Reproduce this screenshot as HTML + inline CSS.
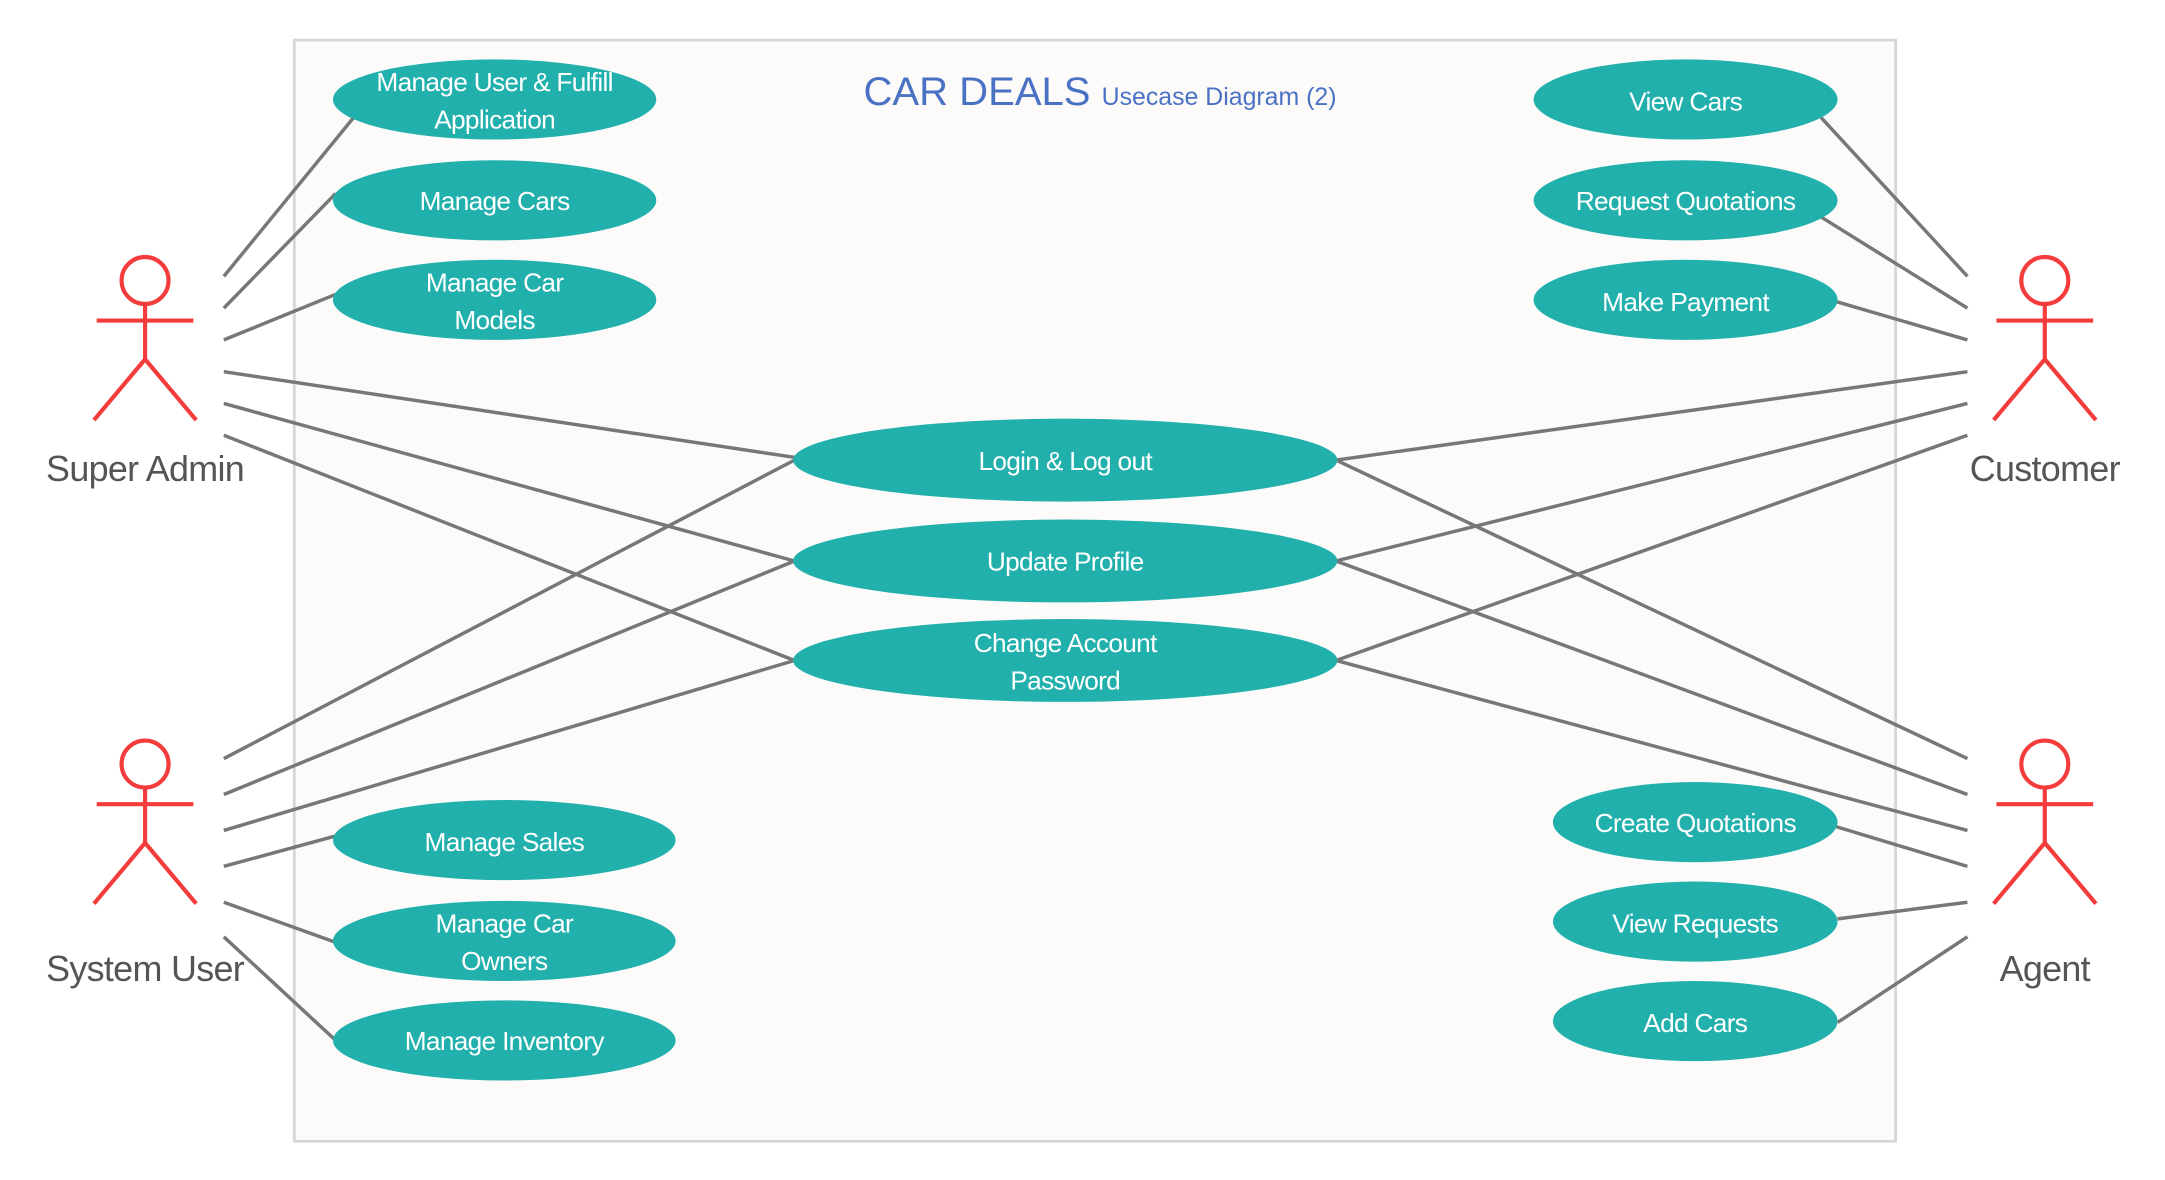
<!DOCTYPE html>
<html><head><meta charset="utf-8"><style>html,body{margin:0;padding:0;background:#fff}svg{display:block}</style></head>
<body>
<svg width="2165" height="1180" viewBox="0 0 1567 854" preserveAspectRatio="none" xmlns="http://www.w3.org/2000/svg" font-family="Liberation Sans, sans-serif">
<rect x="213" y="29" width="1159" height="797" fill="#fcfbfa" stroke="#d6d6d6" stroke-width="2"/>
<g stroke="#777" stroke-width="2.5" fill="none">
<line x1="162" y1="200" x2="256" y2="85"/><line x1="162" y1="223" x2="243" y2="140"/><line x1="162" y1="246" x2="243" y2="213"/>
<line x1="162" y1="269" x2="575" y2="331"/><line x1="162" y1="292" x2="575" y2="406"/><line x1="162" y1="315" x2="575" y2="478"/>
<line x1="162" y1="549" x2="575" y2="333"/><line x1="162" y1="575" x2="575" y2="406"/><line x1="162" y1="601" x2="575" y2="478"/>
<line x1="162" y1="627" x2="243" y2="605"/><line x1="162" y1="653" x2="243" y2="682"/><line x1="162" y1="678" x2="243" y2="753"/>
<line x1="1424" y1="200" x2="1318" y2="85"/><line x1="1424" y1="223" x2="1318" y2="157"/><line x1="1424" y1="246" x2="1328" y2="218"/>
<line x1="1424" y1="269" x2="967" y2="333"/><line x1="1424" y1="292" x2="967" y2="406"/><line x1="1424" y1="315" x2="967" y2="478"/>
<line x1="1424" y1="549" x2="967" y2="333"/><line x1="1424" y1="575" x2="967" y2="406"/><line x1="1424" y1="601" x2="967" y2="478"/>
<line x1="1424" y1="627" x2="1328" y2="598"/><line x1="1424" y1="653" x2="1330" y2="665"/><line x1="1424" y1="678" x2="1330" y2="740"/>
</g>
<g fill="#22b0ad">
<ellipse cx="358" cy="72" rx="117" ry="29"/><ellipse cx="358" cy="145" rx="117" ry="29"/><ellipse cx="358" cy="217" rx="117" ry="29"/>
<ellipse cx="771" cy="333" rx="197" ry="30"/><ellipse cx="771" cy="406" rx="197" ry="30"/><ellipse cx="771" cy="478" rx="197" ry="30"/>
<ellipse cx="1220" cy="72" rx="110" ry="29"/><ellipse cx="1220" cy="145" rx="110" ry="29"/><ellipse cx="1220" cy="217" rx="110" ry="29"/>
<ellipse cx="365" cy="608" rx="124" ry="29"/><ellipse cx="365" cy="681" rx="124" ry="29"/><ellipse cx="365" cy="753" rx="124" ry="29"/>
<ellipse cx="1227" cy="595" rx="103" ry="29"/><ellipse cx="1227" cy="667" rx="103" ry="29"/><ellipse cx="1227" cy="739" rx="103" ry="29"/>
</g>
<g fill="#fff" font-size="19" text-anchor="middle" letter-spacing="-0.5">
<text x="358" y="66">Manage User &amp; Fulfill</text><text x="358" y="93">Application</text>
<text x="358" y="152">Manage Cars</text>
<text x="358" y="211">Manage Car</text><text x="358" y="238">Models</text>
<text x="771" y="340">Login &amp; Log out</text><text x="771" y="413">Update Profile</text>
<text x="771" y="472">Change Account</text><text x="771" y="499">Password</text>
<text x="1220" y="80">View Cars</text><text x="1220" y="152">Request Quotations</text><text x="1220" y="225">Make Payment</text>
<text x="365" y="616">Manage Sales</text><text x="365" y="675">Manage Car</text><text x="365" y="702">Owners</text><text x="365" y="760">Manage Inventory</text>
<text x="1227" y="602">Create Quotations</text><text x="1227" y="675">View Requests</text><text x="1227" y="747">Add Cars</text>
</g>
<text x="625" y="76" font-size="29" fill="#4a72c4">CAR DEALS <tspan font-size="18">Usecase Diagram (2)</tspan></text>
<g stroke="#f43c3c" stroke-width="3" fill="none">
<g id="a"><circle cx="105" cy="203" r="17"/><line x1="105" y1="220" x2="105" y2="260"/><line x1="70" y1="232" x2="140" y2="232"/><line x1="105" y1="260" x2="68" y2="304"/><line x1="105" y1="260" x2="142" y2="304"/></g>
<use href="#a" x="0" y="350"/><use href="#a" x="1375" y="0"/><use href="#a" x="1375" y="350"/>
</g>
<g fill="#555" font-size="26" text-anchor="middle" letter-spacing="-0.5">
<text x="105" y="348">Super Admin</text><text x="105" y="710">System User</text>
<text x="1480" y="348">Customer</text><text x="1480" y="710">Agent</text>
</g>
</svg>
</body></html>
